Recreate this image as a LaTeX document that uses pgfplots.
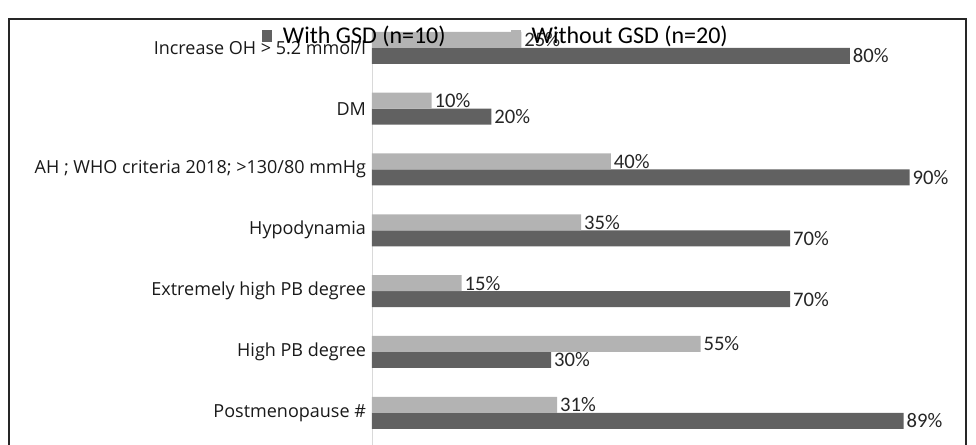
\documentclass[border=0pt]{standalone}
\usepackage{pgfplots}
\pgfplotsset{compat=1.18}
\usepackage{fontspec}
\setmainfont{Carlito}
\newfontfamily\tickfont{Open Sans}
\definecolor{darkbar}{HTML}{616161}
\definecolor{lightbar}{HTML}{B3B3B3}
\definecolor{axisgray}{HTML}{D9D9D9}
\begin{document}
\begin{tikzpicture}
\useasboundingbox (0,0) rectangle (732pt,333.75pt);
\draw[line width=0.9pt, color=black!85] (6.75pt,319.5pt) rectangle (724.5pt,-5pt);
\begin{axis}[
  at={(279pt,0pt)}, anchor=south west,
  scale only axis,
  width=448.1pt, height=311.6pt,
  xmin=0, xmax=100,
  ymin=-0.53, ymax=6.3,
  axis x line=none,
  axis y line*=left,
  y axis line style={draw=axisgray, -},
  xbar, bar width=12pt,
  ytick={0,1,2,3,4,5,6},
  yticklabels={Postmenopause \#, High PB degree, Extremely high PB degree, Hypodynamia, AH ; WHO criteria 2018; >130/80 mmHg, DM, Increase OH > 5.2 mmol/l},
  major tick length=0pt,
  yticklabel style={font=\tickfont\fontsize{13.5}{15}\selectfont, text=black!90, xshift=-1pt},
  point meta=x,
  /pgf/number format/assume math mode=true,
  nodes near coords={\pgfmathprintnumber{\pgfplotspointmeta}\%},
  nodes near coords style={font=\fontsize{15.5}{17}\selectfont, text=black!85, anchor=west, inner sep=2pt},
  legend columns=2,
  legend style={draw=none, fill=none, at={(-0.184,0.985)}, anchor=west, font=\fontsize{18}{20}\selectfont, inner sep=0pt},
  /tikz/every even column/.append style={column sep=47pt},
  legend image code/.code={\fill[#1] (0pt,-4.5pt) rectangle (7.5pt,4.5pt); \path (13.5pt,0pt);},
  clip=false,
]
\addplot[fill=darkbar, draw=none, bar shift=-6pt] coordinates {(89,0) (30,1) (70,2) (70,3) (90,4) (20,5) (80,6)};
\addlegendentry{With GSD (n=10)}
\addplot[fill=lightbar, draw=none, bar shift=6pt] coordinates {(31,0) (55,1) (15,2) (35,3) (40,4) (10,5) (25,6)};
\addlegendentry{Without GSD (n=20)}
\end{axis}
\end{tikzpicture}
\end{document}
